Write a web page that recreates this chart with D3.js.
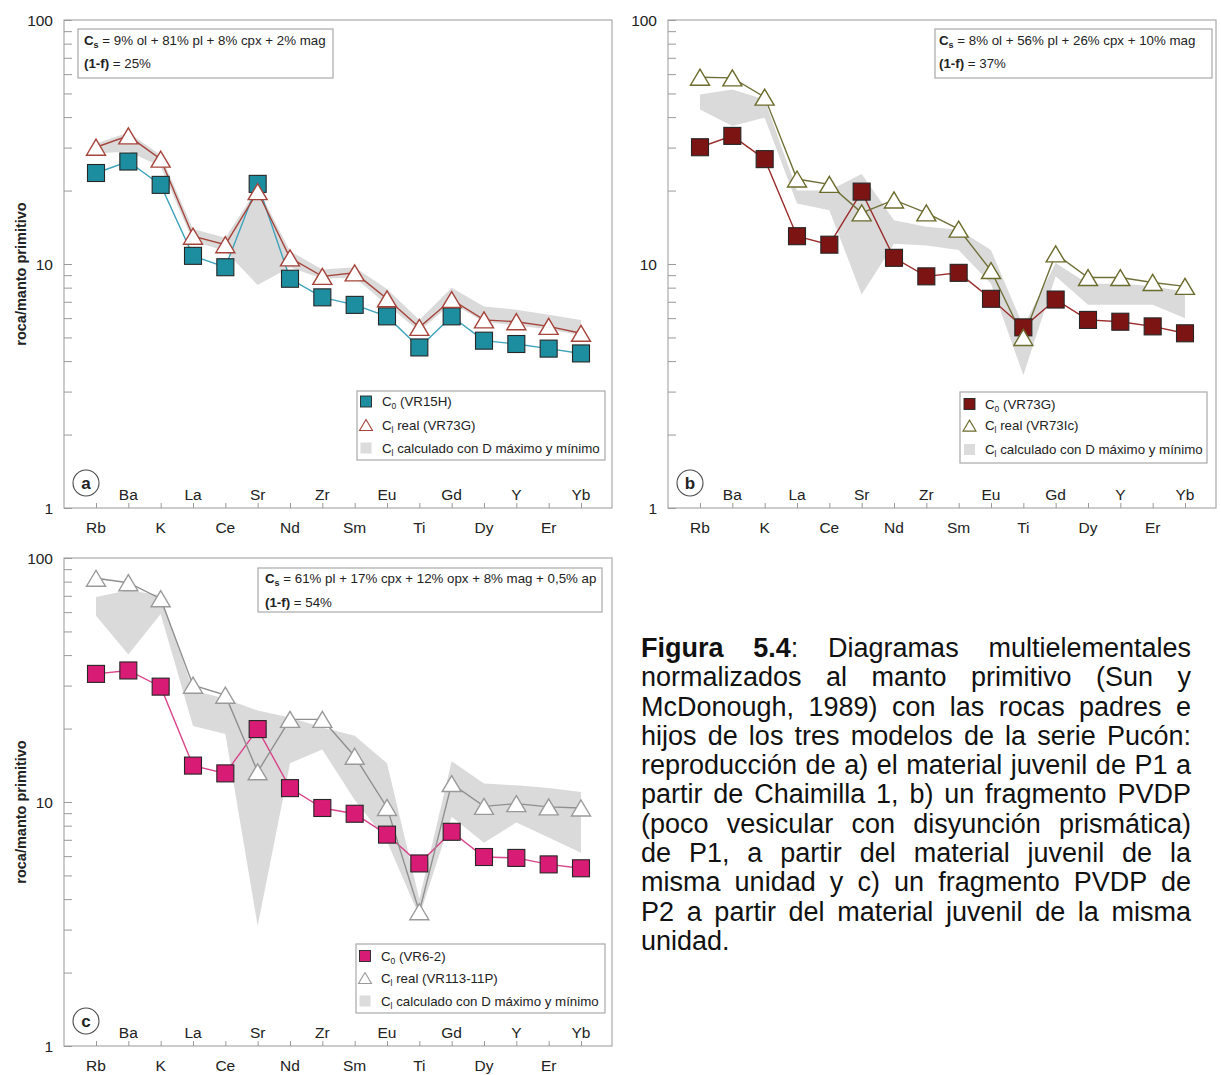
<!DOCTYPE html>
<html>
<head>
<meta charset="utf-8">
<script src="https://cdn.jsdelivr.net/npm/d3@7"></script>
<style>
  body { margin: 0; background: #fff; }
  #fig { position: absolute; left: 0; top: 0; }
  #caption {
    position: absolute; left: 641px; top: 634px; width: 550px;
    font-family: 'Liberation Sans', Arial, Helvetica, sans-serif;
    font-size: 27px; line-height: 29.3px; color: #111;
  }
  #caption div { text-align: justify; text-align-last: justify; white-space: normal; }
  #caption div.last { text-align-last: left; }
</style>
</head>
<body>
<svg id="fig" width="1221" height="1075"></svg>
<div id="caption"></div>
<script>
// Elements of the primitive-mantle-normalised spider diagram (Sun & McDonough, 1989)
const elements = ["Rb","Ba","K","La","Ce","Sr","Nd","Zr","Sm","Eu","Ti","Gd","Dy","Y","Er","Yb"];
const yMajorTicks = [1, 10, 100];
const yMajorLabels = ["1", "10", "100"];

// a) Chaimilla 1 parent (VR15H) -> P1 juvenile material (VR73G)
const coVR15H  = [23.6, 26.3, 21.1, 10.8, 9.7, 21.3, 8.7, 7.3, 6.8, 6.1, 4.55, 6.1, 4.85, 4.7, 4.5, 4.3];
const clVR73G  = [30.1, 33.5, 26.9, 13.0, 12.0, 19.8, 10.6, 8.9, 9.2, 7.2, 5.5, 7.15, 5.9, 5.8, 5.55, 5.2];
const calcMaxA = [31.2, 34.6, 28.0, 13.9, 12.8, 20.5, 11.3, 9.5, 9.7, 7.9, 5.9, 8.0, 6.7, 6.5, 6.2, 5.9];
const calcMinA = [28.4, 28.9, 25.1, 12.4, 11.3, 8.2, 9.7, 8.7, 8.8, 6.8, 5.3, 6.9, 5.8, 5.6, 5.4, 5.1];

// b) P1 juvenile material (VR73G) -> PVDP fragment of P1 (VR73Ic)
const coVR73G  = clVR73G;
const clVR73Ic = [58.3, 57.9, 48.3, 22.3, 21.2, 16.2, 18.3, 16.2, 13.9, 9.4, 5.0, 11.0, 8.8, 8.8, 8.4, 8.1];
const calcMaxB = [49.5, 51.9, 47.2, 20.0, 20.0, 23.4, 15.1, 14.2, 13.8, 11.4, 5.55, 10.1, 8.3, 8.3, 8.1, 7.7];
const calcMinB = [43.0, 36.8, 39.8, 17.7, 16.6, 7.5, 12.1, 11.9, 11.4, 8.3, 3.5, 8.9, 6.8, 6.8, 6.8, 6.0];

// c) P2 juvenile material (VR6-2) -> PVDP fragment of P2 (VR113-11P)
const coVR62    = [33.5, 34.6, 29.7, 14.1, 13.1, 19.9, 11.4, 9.45, 8.95, 7.35, 5.6, 7.55, 5.95, 5.9, 5.55, 5.35];
const clVR11311 = [82.6, 79.2, 68.1, 30.1, 27.4, 13.3, 21.8, 21.8, 15.4, 9.5, 3.55, 11.9, 9.6, 9.85, 9.55, 9.45];
const calcMaxC  = [69.2, 73.8, 70.3, 28.7, 26.5, 23.7, 22.2, 20.2, 18.7, 14.4, 4.0, 14.7, 11.9, 11.7, 11.4, 11.0];
const calcMinC  = [58.0, 40.2, 59.0, 20.5, 19.0, 3.1, 14.4, 16.4, 10.2, 6.9, 3.4, 8.7, 6.8, 8.25, 7.15, 6.2];

const captionLead = "Figura 5.4";
const captionLines = [
  ": Diagramas multielementales",
  "normalizados al manto primitivo (Sun y",
  "McDonough, 1989) con las rocas padres e",
  "hijos de los tres modelos de la serie Pucón:",
  "reproducción de a) el material juvenil de P1 a",
  "partir de Chaimilla 1, b) un fragmento PVDP",
  "(poco vesicular con disyunción prismática)",
  "de P1, a partir del material juvenil de la",
  "misma unidad y c) un fragmento PVDP de",
  "P2 a partir del material juvenil de la misma",
  "unidad."
];

const FONT = "'Liberation Sans', Arial, Helvetica, sans-serif";
const svg = d3.select("#fig");

// Shared panel geometry (panel a position; b and c are translated copies)
const frame = { left: 64, right: 612, top: 20, bottom: 508 };
const x = d3.scalePoint().domain(elements).range([96, 581]);
const y = d3.scaleLog().domain([1, 100]).range([frame.bottom, frame.top]);
const allYTicks = d3.range(1, 10).concat(d3.range(10, 101, 10));

const panels = [
  {
    id: "a", dx: 0, dy: 0, title: true,
    co: coVR15H, cl: clVR73G, calcMax: calcMaxA, calcMin: calcMinA,
    sqFill: "#1d8ea0", coLine: "#3ea2ba", triStroke: "#a5443b", clLine: "#a5443b",
    note: { x: 78, y: 29, w: 255, h: 49, tx: 84, b1: 45, b2: 68,
            cs: " = 9% ol + 81% pl + 8% cpx + 2% mag", f: " = 25%" },
    legend: { x: 357, y: 391, w: 248, h: 69, rows: [401.5, 425, 448], sx: 366, tx: 382,
              co: " (VR15H)", cl: " real (VR73G)" }
  },
  {
    id: "b", dx: 604, dy: 0, title: false,
    co: coVR73G, cl: clVR73Ic, calcMax: calcMaxB, calcMin: calcMinB,
    sqFill: "#7d1414", coLine: "#9b2b2b", triStroke: "#6b6b2c", clLine: "#70703a",
    note: { x: 331, y: 29, w: 277, h: 49, tx: 335, b1: 45, b2: 68,
            cs: " = 8% ol + 56% pl + 26% cpx + 10% mag", f: " = 37%" },
    legend: { x: 356, y: 392, w: 247, h: 71, rows: [404, 425.6, 449.5], sx: 365.5, tx: 381,
              co: " (VR73G)", cl: " real (VR73Ic)" }
  },
  {
    id: "c", dx: 0, dy: 538, title: true,
    co: coVR62, cl: clVR11311, calcMax: calcMaxC, calcMin: calcMinC,
    sqFill: "#d81b74", coLine: "#d9438a", triStroke: "#9a9a9a", clLine: "#909090",
    note: { x: 258, y: 30, w: 344, h: 44, tx: 265, b1: 45, b2: 68.5,
            cs: " = 61% pl + 17% cpx + 12% opx + 8% mag + 0,5% ap", f: " = 54%" },
    legend: { x: 356, y: 406, w: 249, h: 69, rows: [418, 440, 463], sx: 365, tx: 381,
              co: " (VR6-2)", cl: " real (VR113-11P)" }
  }
];

const triPath = (w, h) => `M0,${-h / 2}L${w / 2},${h / 2}L${-w / 2},${h / 2}Z`;

function drawPanel(p) {
  const g = svg.append("g").attr("transform", `translate(${p.dx},${p.dy})`)
    .style("font-family", FONT);

  // plot frame
  g.append("rect")
    .attr("x", frame.left).attr("y", frame.top)
    .attr("width", frame.right - frame.left).attr("height", frame.bottom - frame.top)
    .attr("fill", "#fff").attr("stroke", "#ababab").attr("stroke-width", 1.2);

  // log y ticks (inward) and decade labels
  const yAx = g.append("g").attr("transform", `translate(${frame.left},0)`)
    .call(d3.axisRight(y).tickValues(allYTicks).tickSize(8).tickFormat(() => ""));
  yAx.select(".domain").remove();
  yAx.selectAll("line").attr("stroke", "#9a9a9a");

  g.selectAll("text.ylab").data(yMajorTicks).join("text")
    .attr("class", "ylab")
    .attr("x", 53).attr("y", d => y(d)).attr("dy", "0.36em")
    .attr("text-anchor", "end").attr("font-size", 15.5).attr("fill", "#222")
    .text((d, i) => yMajorLabels[i]);

  // x ticks (inward) and staggered element labels
  const xAx = g.append("g").attr("transform", `translate(0,${frame.bottom})`)
    .call(d3.axisTop(x).tickSize(5).tickFormat(() => ""));
  xAx.select(".domain").remove();
  xAx.selectAll("line").attr("stroke", "#9a9a9a");

  g.selectAll("text.xlab").data(elements).join("text")
    .attr("class", "xlab")
    .attr("x", d => x(d))
    .attr("y", (d, i) => i % 2 === 1 ? 499.5 : 532.5)
    .attr("text-anchor", "middle").attr("font-size", 15.5).attr("fill", "#222")
    .text(d => d);

  if (p.title) {
    g.append("text")
      .attr("transform", "translate(26,274) rotate(-90)")
      .attr("text-anchor", "middle").attr("font-size", 14.5).attr("font-weight", "bold")
      .attr("fill", "#222").text("roca/manto primitivo");
  }

  // band of calculated liquids (D max / D min)
  const band = d3.area()
    .x((d, i) => x(elements[i]))
    .y0((d, i) => y(p.calcMin[i]))
    .y1(d => y(d));
  g.append("path").datum(p.calcMax).attr("d", band).attr("fill", "#dadada");

  const line = d3.line().x((d, i) => x(elements[i])).y(d => y(d));
  g.append("path").datum(p.co).attr("d", line)
    .attr("fill", "none").attr("stroke", p.coLine).attr("stroke-width", 1.4);
  g.append("path").datum(p.cl).attr("d", line)
    .attr("fill", "none").attr("stroke", p.clLine).attr("stroke-width", 1.4);

  const sq = 17;
  g.selectAll("rect.co").data(p.co).join("rect")
    .attr("class", "co")
    .attr("x", (d, i) => x(elements[i]) - sq / 2).attr("y", d => y(d) - sq / 2)
    .attr("width", sq).attr("height", sq)
    .attr("fill", p.sqFill).attr("stroke", "#262626").attr("stroke-width", 1.1);

  g.selectAll("path.cl").data(p.cl).join("path")
    .attr("class", "cl")
    .attr("d", triPath(19, 16))
    .attr("transform", (d, i) => `translate(${x(elements[i])},${y(d)})`)
    .attr("fill", "#fff").attr("stroke", p.triStroke).attr("stroke-width", 1.4)
    .attr("stroke-linejoin", "miter");

  // mineral assemblage / residual liquid box
  const n = p.note;
  g.append("rect").attr("x", n.x).attr("y", n.y).attr("width", n.w).attr("height", n.h)
    .attr("fill", "#fff").attr("stroke", "#a8a8a8").attr("stroke-width", 1.2);
  const t1 = g.append("text").attr("x", n.tx).attr("y", n.b1)
    .attr("font-size", 13.3).attr("fill", "#222");
  t1.append("tspan").attr("font-weight", "bold").text("C");
  t1.append("tspan").attr("font-weight", "bold").attr("font-size", 9).attr("dy", 3).text("s");
  t1.append("tspan").attr("dy", -3).text(n.cs);
  const t2 = g.append("text").attr("x", n.tx).attr("y", n.b2)
    .attr("font-size", 13.3).attr("fill", "#222");
  t2.append("tspan").attr("font-weight", "bold").text("(1-f)");
  t2.append("tspan").text(n.f);

  // legend
  const L = p.legend;
  g.append("rect").attr("x", L.x).attr("y", L.y).attr("width", L.w).attr("height", L.h)
    .attr("fill", "#fff").attr("stroke", "#a8a8a8").attr("stroke-width", 1.2);
  g.append("rect").attr("x", L.sx - 5.5).attr("y", L.rows[0] - 5.5).attr("width", 11).attr("height", 11)
    .attr("fill", p.sqFill).attr("stroke", "#262626").attr("stroke-width", 0.9);
  g.append("path").attr("d", triPath(13, 11))
    .attr("transform", `translate(${L.sx},${L.rows[1]})`)
    .attr("fill", "#fff").attr("stroke", p.triStroke).attr("stroke-width", 1.1);
  g.append("rect").attr("x", L.sx - 5.5).attr("y", L.rows[2] - 5.5).attr("width", 11).attr("height", 11)
    .attr("fill", "#dcdcdc");

  const legendRows = [
    { sub: "0", rest: L.co },
    { sub: "l", rest: L.cl },
    { sub: "l", rest: " calculado con D máximo y mínimo" }
  ];
  legendRows.forEach((r, i) => {
    const t = g.append("text").attr("x", L.tx).attr("y", L.rows[i]).attr("dy", "0.36em")
      .attr("font-size", 13.3).attr("fill", "#222");
    t.append("tspan").text("C");
    t.append("tspan").attr("font-size", 8.5).attr("dy", 3).text(r.sub);
    t.append("tspan").attr("dy", -3).text(r.rest);
  });

  // circled panel letter
  g.append("ellipse").attr("cx", 86).attr("cy", 483).attr("rx", 13).attr("ry", 13)
    .attr("fill", "#fff").attr("stroke", "#4a4a4a").attr("stroke-width", 1.1);
  g.append("text").attr("x", 86).attr("y", 483).attr("dy", "0.36em")
    .attr("text-anchor", "middle").attr("font-size", 17).attr("font-weight", "bold")
    .attr("fill", "#222").text(p.id);
}

panels.forEach(drawPanel);

// justified caption
const cap = d3.select("#caption");
captionLines.forEach((line, i) => {
  const div = cap.append("div").attr("class", i === captionLines.length - 1 ? "last" : "line");
  if (i === 0) div.append("b").text(captionLead);
  div.append("span").text(line);
});
</script>
</body>
</html>
